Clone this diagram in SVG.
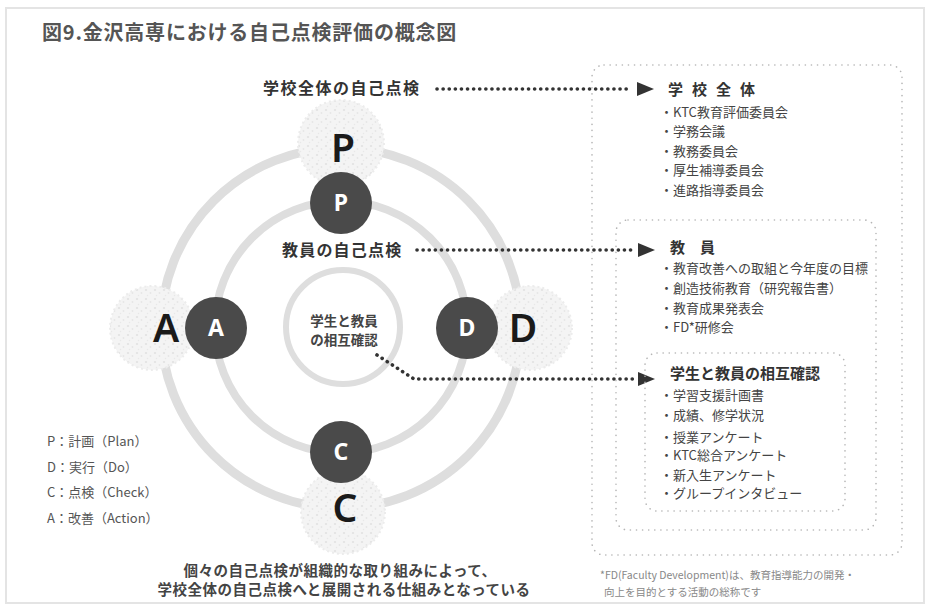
<svg xmlns="http://www.w3.org/2000/svg" width="929" height="614" viewBox="0 0 929 614">
<defs>
<style>
.jp{font-family:"Noto Sans CJK JP","Noto Sans",sans-serif;}
.title{font-size:20px;font-weight:700;fill:#555;letter-spacing:0.8px;}
.lbl{font-size:16px;font-weight:700;fill:#333;}
.hdr{font-size:15px;font-weight:700;fill:#333;}
.item{font-size:13px;fill:#444;}
.leg{font-size:13px;fill:#555;}
.bot{font-size:14.5px;font-weight:700;fill:#444;letter-spacing:0.5px;}
.note{font-size:10.5px;fill:#888;}
.ring{fill:none;stroke:#dedede;}
.blob{fill:url(#speck);stroke:#ececec;stroke-width:2;stroke-dasharray:2 3;}
.dark{fill:#4a4a4a;}
.dl{font-family:"Noto Sans","Liberation Sans",sans-serif;font-size:23px;font-weight:700;fill:#fff;text-anchor:middle;}
.big{font-family:"Noto Sans","Liberation Sans",sans-serif;font-size:39px;font-weight:600;fill:#1a1a1a;text-anchor:middle;}
.dots{fill:none;stroke:#333;stroke-width:3.6;stroke-linecap:round;stroke-dasharray:0.1 6;}
.box{fill:none;stroke:#b5b5b5;stroke-width:1.6;stroke-linecap:round;stroke-dasharray:0.1 6;}
.head{fill:#333;}
</style>
<pattern id="speck" width="9" height="9" patternUnits="userSpaceOnUse">
<rect width="9" height="9" fill="#f4f4f4"/>
<circle cx="2" cy="2" r="1.1" fill="#e2e2e2"/>
<circle cx="6.5" cy="5" r="0.9" fill="#e6e6e6"/>
<circle cx="3.5" cy="7.5" r="0.7" fill="#e8e8e8"/>
</pattern>
</defs>
<rect x="0" y="0" width="929" height="614" fill="#fff"/>
<rect x="6" y="8" width="918" height="595" fill="none" stroke="#e4e4e4" stroke-width="2"/>

<text class="jp title" x="42" y="40">図9.金沢高専における自己点検評価の概念図</text>

<g id="rings">
<circle class="ring" cx="341" cy="328" r="180" stroke-width="9"/>
<circle class="ring" cx="341" cy="327" r="126" stroke-width="8"/>
</g>

<g id="outer-P"><circle class="blob" cx="341" cy="143" r="43"/><text class="big" x="343" y="162">P</text></g>
<g id="outer-A"><circle class="blob" cx="152" cy="328" r="42"/><text class="big" x="166" y="342">A</text></g>
<g id="outer-D"><circle class="blob" cx="530" cy="328" r="42"/><text class="big" x="523" y="342">D</text></g>
<g id="outer-C"><circle class="blob" cx="343" cy="512" r="42"/><text class="big" x="345" y="522">C</text></g>

<g id="inner-P"><circle class="dark" cx="341" cy="203" r="31"/><text class="dl" x="341" y="211">P</text></g>
<g id="inner-A"><circle class="dark" cx="216" cy="328" r="31"/><text class="dl" x="216" y="336">A</text></g>
<g id="inner-D"><circle class="dark" cx="467" cy="328" r="31"/><text class="dl" x="467" y="336">D</text></g>
<g id="inner-C"><circle class="dark" cx="341" cy="452" r="31"/><text class="dl" x="341" y="460">C</text></g>

<g id="center">
<circle class="ring" cx="343" cy="327" r="57" stroke-width="6"/>
<text class="jp" x="344" y="326" font-size="13.5" font-weight="700" fill="#444" text-anchor="middle">学生と教員</text>
<text class="jp" x="344" y="345" font-size="13.5" font-weight="700" fill="#444" text-anchor="middle">の相互確認</text>
</g>

<g id="label-school"><text class="jp lbl" x="263" y="94" letter-spacing="1.5">学校全体の自己点検</text></g>
<g id="label-teacher"><text class="jp lbl" x="282" y="256" letter-spacing="1.2">教員の自己点検</text></g>

<g id="connectors">
<path class="dots" d="M437 89 H632"/>
<polygon class="head" points="637,82 654,89 637,96"/>
<path class="dots" d="M417 250 H633"/>
<polygon class="head" points="638,243 655,250 638,257"/>
<path class="dots" d="M377 355 L414 379 H633"/>
<polygon class="head" points="638,372 655,379 638,386"/>
</g>

<g id="box-school">
<rect class="box" x="592" y="65" width="310" height="490" rx="12"/>
<text class="jp hdr" x="668" y="95" letter-spacing="9">学校全体</text>
<text class="jp item" x="660" y="117">・KTC教育評価委員会</text>
<text class="jp item" x="660" y="136">・学務会議</text>
<text class="jp item" x="660" y="156">・教務委員会</text>
<text class="jp item" x="660" y="175">・厚生補導委員会</text>
<text class="jp item" x="660" y="195">・進路指導委員会</text>
</g>

<g id="box-teacher">
<rect class="box" x="616" y="220" width="260" height="310" rx="12"/>
<text class="jp hdr" x="670" y="253" letter-spacing="0">教　員</text>
<text class="jp item" x="660" y="273">・教育改善への取組と今年度の目標</text>
<text class="jp item" x="660" y="293">・創造技術教育（研究報告書）</text>
<text class="jp item" x="660" y="313">・教育成果発表会</text>
<text class="jp item" x="660" y="332">・FD*研修会</text>
</g>

<g id="box-mutual">
<rect class="box" x="645" y="353" width="200" height="158" rx="12"/>
<text class="jp hdr" x="670" y="379">学生と教員の相互確認</text>
<text class="jp item" x="660" y="400">・学習支援計画書</text>
<text class="jp item" x="660" y="420">・成績、修学状況</text>
<text class="jp item" x="660" y="442">・授業アンケート</text>
<text class="jp item" x="660" y="460">・KTC総合アンケート</text>
<text class="jp item" x="660" y="480">・新入生アンケート</text>
<text class="jp item" x="660" y="498">・グループインタビュー</text>
</g>

<g id="legend">
<text class="jp leg" x="47" y="446">P：計画（Plan）</text>
<text class="jp leg" x="47" y="472">D：実行（Do）</text>
<text class="jp leg" x="47" y="497">C：点検（Check）</text>
<text class="jp leg" x="47" y="523">A：改善（Action）</text>
</g>

<g id="caption">
<text class="jp bot" x="340" y="576" text-anchor="middle">個々の自己点検が組織的な取り組みによって、</text>
<text class="jp bot" x="344" y="595" text-anchor="middle">学校全体の自己点検へと展開される仕組みとなっている</text>
</g>

<g id="footnote">
<text class="jp note" x="600" y="579">*FD(Faculty Development)は、教育指導能力の開発・</text>
<text class="jp note" x="604" y="596">向上を目的とする活動の総称です</text>
</g>
</svg>
